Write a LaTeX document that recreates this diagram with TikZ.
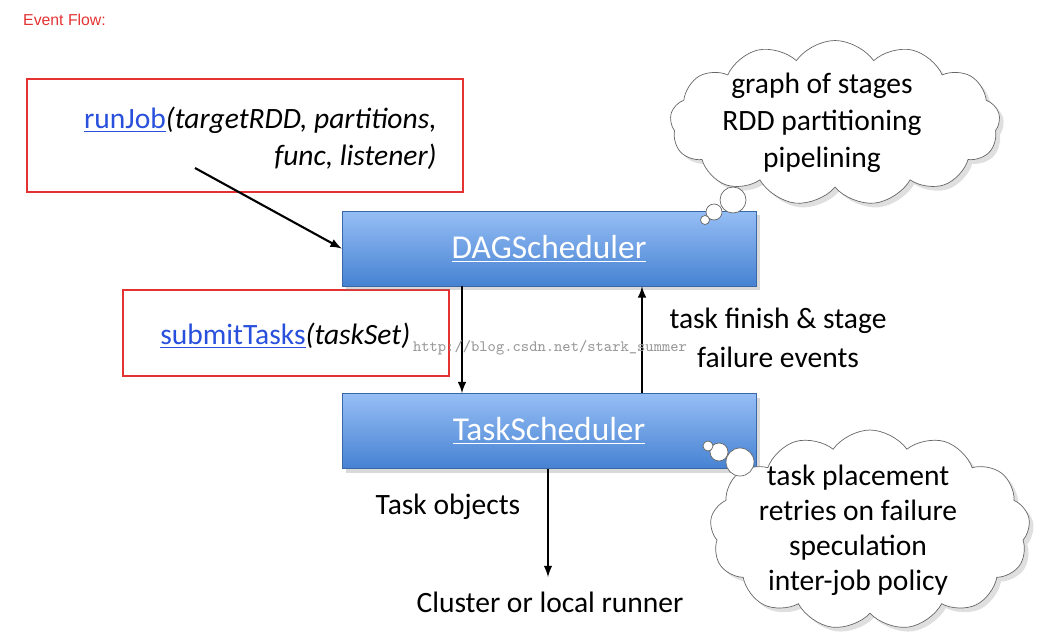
\documentclass[tikz,border=0pt]{standalone}
\usepackage{fontspec}
\setmainfont{Carlito}
\newfontfamily\arialf{Liberation Sans}
\usetikzlibrary{shapes.symbols,shadows,decorations.pathmorphing}
\definecolor{redbox}{RGB}{228,50,50}
\definecolor{btop}{RGB}{150,190,245}
\definecolor{bbot}{RGB}{70,130,210}
\definecolor{linkblue}{RGB}{40,80,220}
\begin{document}
\begin{tikzpicture}[x=0.02cm,y=-0.02cm,
  redb/.style={draw=redbox,line width=1.2pt},
  sched/.style={draw=bbot!80!black,top color=btop,bottom color=bbot,drop shadow={opacity=0.3},minimum width=414*0.02cm,minimum height=75*0.02cm,text=white,font=\fontsize{19}{22}\selectfont},
  lbl/.style={font=\fontsize{16.8}{19}\selectfont,align=center,inner sep=0},
  arr/.style={-latex,line width=1.2pt},
  cl/.style={cloud,cloud puffs=13,cloud puff arc=110,aspect=1.9,draw=black!60,fill=white,drop shadow={opacity=0.25},inner sep=0},
  bub/.style={circle,draw=black!60,fill=white,inner sep=0}]
\useasboundingbox (0,0) rectangle (1044,643);
\node[anchor=west,text=redbox,font=\arialf\fontsize{9}{11}\selectfont] (ef) at (17,20) {Event Flow:};
\node[redb,minimum width=436*0.02cm,minimum height=113*0.02cm] (r1) at (245,135.5) {};
\node[lbl,anchor=east] (rj1) at (437,120) {\textcolor{linkblue}{\underline{runJob}}\textit{(targetRDD, partitions,}};
\node[lbl,anchor=east] (rj2) at (437,157) {\textit{func, listener)}};
\node[redb,minimum width=326*0.02cm,minimum height=86*0.02cm] (r2) at (286,333) {};
\node[lbl,anchor=west] (st) at (160,336) {\textcolor{linkblue}{\underline{submitTasks}}\textit{(taskSet)}};
\node[sched] (dag) at (549,248.5) {\underline{DAGScheduler}};
\node[sched] (ts) at (549,431) {\underline{TaskScheduler}};
\coordinate (a0) at (195,168);
\draw[arr] (a0) -- (dag.west);
\draw[arr] (dag.south -| 462,0) -- (ts.north -| 462,0);
\draw[arr] (ts.north -| 642,0) -- (dag.south -| 642,0);
\coordinate (out) at (548,577);
\draw[arr] (ts.south -| 548,0) -- (out);
\node[lbl] (tf) at (778,338) {task finish \& stage\\[3pt]failure events};
\node[text=black!40,font=\ttfamily\fontsize{9}{10}\selectfont] (wm) at (550,348) {http://blog.csdn.net/stark\_summer};
\node[lbl] (to) at (448,507) {Task objects};
\node[lbl] (cr) at (550,602) {Cluster or local runner};
\node[cl,minimum width=330*0.02cm,minimum height=165*0.02cm] (c1) at (835,123) {};
\node[lbl] (c1t) at (822,123) {graph of stages\\[2pt]RDD partitioning\\[2pt]pipelining};
\node[bub,minimum size=26*0.02cm] (b11) at (733,200) {};
\node[bub,minimum size=16*0.02cm] (b12) at (714,212) {};
\node[bub,minimum size=9*0.02cm] (b13) at (705,220) {};
\node[cl,minimum width=320*0.02cm,minimum height=200*0.02cm] (c2) at (870,530) {};
\node[lbl] (c2t) at (858,530) {task placement\\[1pt]retries on failure\\[1pt]speculation\\[1pt]inter-job policy};
\node[bub,minimum size=28*0.02cm] (b21) at (740,462) {};
\node[bub,minimum size=18*0.02cm] (b22) at (719,452) {};
\node[bub,minimum size=10*0.02cm] (b23) at (708,446) {};
\end{tikzpicture}
\end{document}
